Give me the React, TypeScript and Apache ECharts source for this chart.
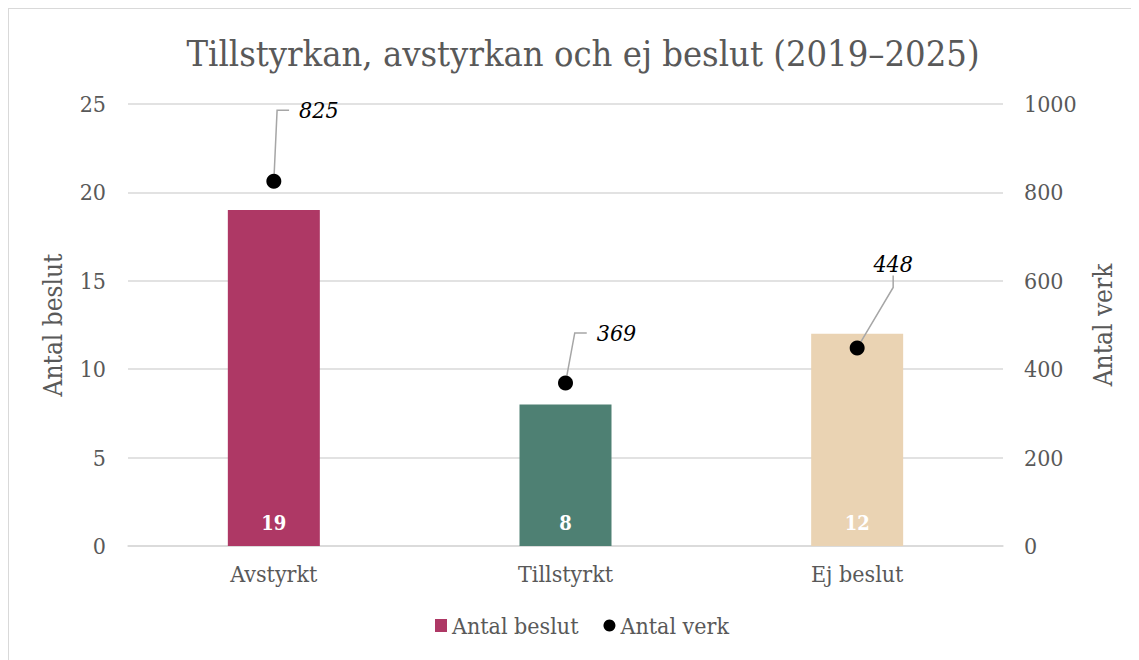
import React, { useEffect, useRef } from "react";
import * as echarts from "echarts";

const titleText = "Tillstyrkan, avstyrkan och ej beslut (2019–2025)";
const categories = ["Avstyrkt", "Tillstyrkt", "Ej beslut"];
const beslutValues = [19, 8, 12];
const verkValues = [825, 369, 448];
const barColors = ["#AE3865", "#4E8073", "#EAD3B3"];
// label offsets (text centre relative to point) and invisible padding used to steer the leader line
const labelOffsets = [
  [45, -71],
  [51, -50],
  [36, -84],
];
const labelPads = [
  [0, 60, 0, 10],
  [0, 60, 0, 10],
  [0, 0, 0, 0],
];

const FONT = "'DejaVu Serif Condensed', 'DejaVu Serif', serif";
const GRAY = "#595959";

export default function App() {
  const ref = useRef<HTMLDivElement>(null);
  useEffect(() => {
    if (!ref.current) return;
    const chart = echarts.init(ref.current, undefined, { renderer: "svg" });
    chart.setOption({
      animation: false,
      backgroundColor: "#ffffff",
      textStyle: { fontFamily: FONT },
      title: {
        text: titleText,
        left: 569,
        textAlign: "center",
        top: 21,
        textStyle: { fontFamily: FONT, fontSize: 36, fontWeight: "normal", color: GRAY },
      },
      legend: {
        bottom: 18,
        left: 421,
        itemWidth: 12,
        itemHeight: 13,
        itemGap: 25,
        textStyle: { fontFamily: FONT, fontSize: 23, color: GRAY },
        data: [
          { name: "Antal beslut", icon: "rect" },
          { name: "Antal verk", icon: "circle" },
        ],
      },
      grid: { left: 119, right: 136, top: 95, bottom: 114 },
      xAxis: {
        type: "category",
        data: categories,
        axisTick: { show: false },
        axisLine: { lineStyle: { color: "#d9d9d9", width: 1.5 } },
        axisLabel: { fontFamily: FONT, fontSize: 23, color: GRAY, margin: 16 },
      },
      yAxis: [
        {
          type: "value",
          min: 0,
          max: 25,
          interval: 5,
          name: "Antal beslut",
          nameLocation: "middle",
          nameGap: 62,
          nameTextStyle: { fontFamily: FONT, fontSize: 26, color: GRAY },
          axisLabel: { fontFamily: FONT, fontSize: 23, color: GRAY, margin: 22 },
          splitLine: { lineStyle: { color: "#d9d9d9", width: 1.5 } },
          axisLine: { show: false },
          axisTick: { show: false },
        },
        {
          type: "value",
          min: 0,
          max: 1000,
          interval: 200,
          name: "Antal verk",
          nameLocation: "middle",
          nameGap: 87,
          nameTextStyle: { fontFamily: FONT, fontSize: 26, color: GRAY },
          axisLabel: {
            fontFamily: FONT,
            fontSize: 23,
            color: GRAY,
            margin: 21,
            formatter: (v: number) => String(v),
          },
          splitLine: { show: false },
          axisLine: { show: false },
          axisTick: { show: false },
        },
      ],
      series: [
        {
          name: "Antal beslut",
          type: "bar",
          barWidth: 92,
          itemStyle: { color: barColors[0] },
          data: beslutValues.map((v, i) => ({ value: v, itemStyle: { color: barColors[i] } })),
          label: {
            show: true,
            position: "insideBottom",
            distance: 13,
            color: "#ffffff",
            fontFamily: FONT,
            fontWeight: "bold",
            fontSize: 20,
          },
        },
        {
          name: "Antal verk",
          type: "scatter",
          yAxisIndex: 1,
          symbol: "circle",
          symbolSize: 15,
          itemStyle: { color: "#000000", opacity: 1 },
          data: verkValues.map((v, i) => ({ value: v, label: { padding: labelPads[i] } })),
          label: {
            show: true,
            position: "inside",
            color: "#000000",
            fontFamily: FONT,
            fontStyle: "italic",
            fontSize: 23,
            backgroundColor: "rgba(255,255,255,0)",
          },
          labelLine: {
            show: true,
            length2: 12,
            lineStyle: { color: "#a6a6a6", width: 1.5 },
          },
          labelLayout: (p: any) => {
            const i = p.dataIndex;
            const pad = labelPads[i];
            return {
              dx: labelOffsets[i][0] - (pad[3] - pad[1]) / 2,
              dy: labelOffsets[i][1] - (pad[0] - pad[2]) / 2,
            };
          },
        },
      ],
    });
    return () => chart.dispose();
  }, []);
  return (
    <div
      ref={ref}
      style={{
        width: 1130,
        height: 651,
        borderLeft: "1px solid #d9d9d9",
        borderTop: "1px solid #d9d9d9",
      }}
    />
  );
}
